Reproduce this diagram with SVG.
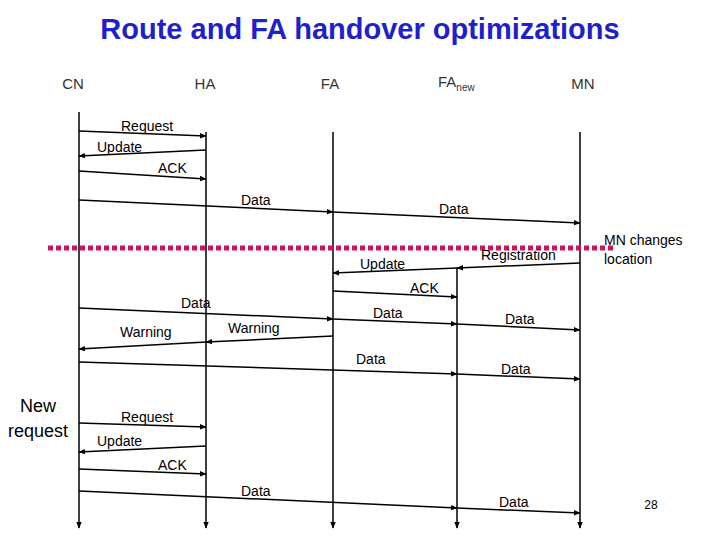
<svg xmlns="http://www.w3.org/2000/svg" width="720" height="540" viewBox="0 0 720 540">
<defs>
<marker id="a" viewBox="0 0 10 10" refX="9" refY="5" markerWidth="7" markerHeight="7" orient="auto-start-reverse" markerUnits="userSpaceOnUse"><path d="M0,1 L10,5 L0,9 z" fill="#000"/></marker>
<style>
text{font-family:"Liberation Sans",Arial,sans-serif}
.l{font-size:14px;fill:#000}
.h{font-size:15px;fill:#333}
.m{stroke:#000;stroke-width:1.5;fill:none}
</style>
</defs>
<rect width="720" height="540" fill="#fff"/>
<text x="360" y="39" text-anchor="middle" font-size="29" font-weight="bold" fill="#1f1fcc">Route and FA handover optimizations</text>
<g id="CN"><text class="h" x="73" y="89" text-anchor="middle">CN</text><line class="m" x1="79" y1="112" x2="79" y2="528" marker-end="url(#a)"/></g>
<g id="HA"><text class="h" x="205" y="89" text-anchor="middle">HA</text><line class="m" x1="206" y1="132" x2="206" y2="528" marker-end="url(#a)"/></g>
<g id="FA"><text class="h" x="330" y="89" text-anchor="middle">FA</text><line class="m" x1="333" y1="132" x2="333" y2="528" marker-end="url(#a)"/></g>
<g id="FAnew"><text class="h" x="438" y="87">FA<tspan font-size="10" dy="4">new</tspan></text><line class="m" x1="457" y1="268" x2="457" y2="528" marker-end="url(#a)"/></g>
<g id="MN"><text class="h" x="583" y="89" text-anchor="middle">MN</text><line class="m" x1="580" y1="132" x2="580" y2="528" marker-end="url(#a)"/></g>
<line x1="48" y1="248" x2="615" y2="248" stroke="#c8175a" stroke-width="5" stroke-dasharray="5,3"/>
<text class="l" x="604" y="245">MN changes</text><text class="l" x="604" y="264">location</text>
<text x="38" y="412" text-anchor="middle" font-size="18">New</text><text x="38" y="437" text-anchor="middle" font-size="18">request</text>
<text x="651" y="509" text-anchor="middle" font-size="12" font-family="Liberation Serif">28</text>
<g id="connectors">
<path class="m" d="M79 131 L206 136" marker-end="url(#a)"/>
<path class="m" d="M206 150 L79 156" marker-end="url(#a)"/>
<path class="m" d="M79 171 L206 179" marker-end="url(#a)"/>
<path class="m" d="M79 200 L333 212" marker-end="url(#a)"/>
<path class="m" d="M333 212 L580 223" marker-end="url(#a)"/>
<path class="m" d="M580 263 L457 268" marker-end="url(#a)"/>
<path class="m" d="M457 268 L333 273" marker-end="url(#a)"/>
<path class="m" d="M333 291 L457 297" marker-end="url(#a)"/>
<path class="m" d="M79 308 L333 319" marker-end="url(#a)"/>
<path class="m" d="M333 319 L457 324" marker-end="url(#a)"/>
<path class="m" d="M457 324 L580 330" marker-end="url(#a)"/>
<path class="m" d="M333 336 L206 342" marker-end="url(#a)"/>
<path class="m" d="M206 342 L79 349" marker-end="url(#a)"/>
<path class="m" d="M79 362 L457 374" marker-end="url(#a)"/>
<path class="m" d="M457 374 L580 379" marker-end="url(#a)"/>
<path class="m" d="M79 423 L206 427" marker-end="url(#a)"/>
<path class="m" d="M206 446 L79 452" marker-end="url(#a)"/>
<path class="m" d="M79 469 L206 474" marker-end="url(#a)"/>
<path class="m" d="M79 491 L457 508" marker-end="url(#a)"/>
<path class="m" d="M457 508 L580 513" marker-end="url(#a)"/>
</g>
<g class="l">
<text class="l" x="121" y="131">Request</text>
<text class="l" x="97" y="152">Update</text>
<text class="l" x="158" y="173">ACK</text>
<text class="l" x="241" y="205">Data</text>
<text class="l" x="439" y="214">Data</text>
<text class="l" x="481" y="260">Registration</text>
<text class="l" x="360" y="269">Update</text>
<text class="l" x="410" y="293">ACK</text>
<text class="l" x="181" y="308">Data</text>
<text class="l" x="373" y="318">Data</text>
<text class="l" x="505" y="324">Data</text>
<text class="l" x="120" y="337">Warning</text>
<text class="l" x="228" y="333">Warning</text>
<text class="l" x="356" y="364">Data</text>
<text class="l" x="501" y="374">Data</text>
<text class="l" x="121" y="422">Request</text>
<text class="l" x="97" y="446">Update</text>
<text class="l" x="158" y="470">ACK</text>
<text class="l" x="241" y="496">Data</text>
<text class="l" x="499" y="507">Data</text>
</g>
</svg>
